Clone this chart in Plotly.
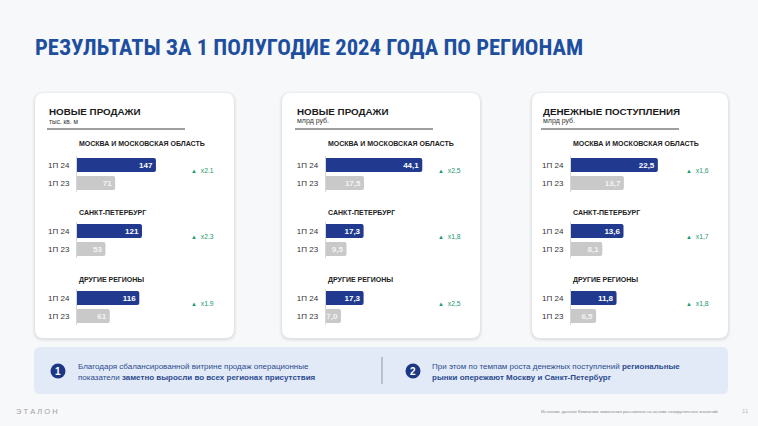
import plotly.graph_objects as go

# ---------------- data ----------------
regions = ["МОСКВА И МОСКОВСКАЯ ОБЛАСТЬ", "САНКТ-ПЕТЕРБУРГ", "ДРУГИЕ РЕГИОНЫ"]
periods = ["1П 24", "1П 23"]

card_titles = ["НОВЫЕ ПРОДАЖИ", "НОВЫЕ ПРОДАЖИ", "ДЕНЕЖНЫЕ ПОСТУПЛЕНИЯ"]
card_units = ["тыс. кв. м", "млрд руб.", "млрд руб."]

sales_area_24 = [147, 121, 116]
sales_area_23 = [71, 53, 61]
sales_rub_24 = [44.1, 17.3, 17.3]
sales_rub_23 = [17.5, 9.5, 7.0]
cash_24 = [22.5, 13.6, 11.8]
cash_23 = [13.7, 8.1, 6.5]

growth_area = ["x2.1", "x2.3", "x1.9"]
growth_rub = ["x2,5", "x1,8", "x2,5"]
growth_cash = ["x1,6", "x1,7", "x1,8"]

title_text = "РЕЗУЛЬТАТЫ ЗА 1 ПОЛУГОДИЕ 2024 ГОДА ПО РЕГИОНАМ"
note1 = ["Благодаря сбалансированной витрине продаж операционные",
         "показатели <b>заметно выросли во всех регионах присутствия</b>"]
note2 = ["При этом по темпам роста денежных поступлений <b>региональные</b>",
         "<b>рынки опережают Москву и Санкт-Петербург</b>"]
source_text = "Источник: данные Компании; изменения рассчитано на основе неокругленных значений."

# ---------------- layout helpers ----------------
W, H = 758, 426
def px(x): return x / W
def py(y): return 1 - y / H

FONT = "Liberation Sans, Arial, sans-serif"
BLUE = "#213a8f"
GRAY = "#c9c9c9"
GREEN = "#1d9a6c"
TITLE_BLUE = "#1e4f9f"

def rrect(x0, y0, x1, y1, r):
    L, R, T, B = px(x0), px(x1), py(y0), py(y1)
    rx, ry = r / W, r / H
    return (f"M {L+rx},{T} L {R-rx},{T} Q {R},{T} {R},{T-ry} L {R},{B+ry} "
            f"Q {R},{B} {R-rx},{B} L {L+rx},{B} Q {L},{B} {L},{B+ry} "
            f"L {L},{T-ry} Q {L},{T} {L+rx},{T} Z")

cards = [
    dict(left=35, right=234, tx=47, ax=77, scale=0.537, mx=189,
         v24=sales_area_24, v23=sales_area_23, g=growth_area, dec=0),
    dict(left=282, right=480, tx=295, ax=325.7, scale=2.19, mx=436,
         v24=sales_rub_24, v23=sales_rub_23, g=growth_rub, dec=1),
    dict(left=532, right=728, tx=541, ax=571, scale=3.86, mx=684,
         v24=cash_24, v23=cash_23, g=growth_cash, dec=1),
]
CARD_TOP, CARD_BOT = 93, 338
bar1_y = [165, 231, 298]
region_label_y = [143, 212, 280]
ROW = 18

def fmt(v, dec):
    return f"{v:.{dec}f}".replace(".", ",")

fig = go.Figure()
shapes = []
annotations = []
layout_axes = {}

# title
annotations.append(dict(x=px(33), y=py(47), xref="paper", yref="paper",
    text=f"<b>{title_text}</b>", showarrow=False, xanchor="left", yanchor="middle",
    font=dict(family="Liberation Sans Narrow, Roboto Condensed, Liberation Sans, Arial", size=22.6, color=TITLE_BLUE)))

for ci, c in enumerate(cards):
    # shadow + card
    for i, a in enumerate([0.018, 0.025, 0.035]):
        g = 3 - i
        shapes.append(dict(type="path", xref="paper", yref="paper", layer="below",
            path=rrect(c["left"] - g, CARD_TOP - g + 1, c["right"] + g, CARD_BOT + g + 1, 9 + g),
            fillcolor=f"rgba(0,0,0,{a})", line=dict(width=0)))
    shapes.append(dict(type="path", xref="paper", yref="paper", layer="below",
        path=rrect(c["left"], CARD_TOP, c["right"], CARD_BOT, 9),
        fillcolor="white", line=dict(width=0)))
    # card title / unit / underline
    annotations.append(dict(x=px(c["tx"]), y=py(111), xref="paper", yref="paper",
        text=f"<b>{card_titles[ci]}</b>", showarrow=False, xanchor="left", yanchor="middle",
        font=dict(family=FONT, size=9.8, color="#1a1a1a")))
    annotations.append(dict(x=px(c["tx"]), y=py(121), xref="paper", yref="paper",
        text=card_units[ci], showarrow=False, xanchor="left", yanchor="middle",
        font=dict(family=FONT, size=6.5 if ci == 0 else 7, color="#333")))
    shapes.append(dict(type="line", xref="paper", yref="paper",
        x0=px(c["tx"]), x1=px(c["tx"] + 138), y0=py(129), y1=py(129),
        line=dict(color="#808080", width=1.6)))

    xmax = (c["right"] - c["ax"]) / c["scale"]
    for r in range(3):
        k = ci * 3 + r + 1
        xa = "x" if k == 1 else f"x{k}"
        ya = "y" if k == 1 else f"y{k}"
        top = bar1_y[r] - ROW / 2
        bot = bar1_y[r] + ROW + ROW / 2
        vals = [c["v24"][r], c["v23"][r]]
        fig.add_trace(go.Bar(
            x=vals, y=periods, orientation="h", xaxis=xa, yaxis=ya,
            marker=dict(color=[BLUE, GRAY], line=dict(width=0)),
            text=[fmt(v, c["dec"]) for v in vals],
            textposition="inside", insidetextanchor="end", textangle=0,
            textfont=dict(family=FONT, size=8, color=["white", "#f4f4f4"], weight="bold"),
            cliponaxis=False, hoverinfo="skip", showlegend=False))
        xkey = "xaxis" if k == 1 else f"xaxis{k}"
        ykey = "yaxis" if k == 1 else f"yaxis{k}"
        layout_axes[xkey] = dict(domain=[px(c["ax"]), px(c["right"])], range=[0, xmax],
            showgrid=False, zeroline=False, showticklabels=False, showline=False,
            anchor=ya, fixedrange=True)
        layout_axes[ykey] = dict(domain=[py(bot), py(top)], autorange="reversed",
            showgrid=False, zeroline=False, showline=True, linecolor="#d6d6d6", linewidth=1,
            ticks="", ticklabelstandoff=5,
            tickfont=dict(family=FONT, size=8, color="#333"), anchor=xa, fixedrange=True)
        # region label
        annotations.append(dict(x=px(c["ax"]), y=py(region_label_y[r]), xref="paper", yref="paper",
            text=f"<b>{regions[r]}</b>", showarrow=False, xanchor="left", yanchor="middle",
            font=dict(family=FONT, size=7, color="#222")))
        # growth multiplier
        annotations.append(dict(x=px(c["mx"]), y=py(bar1_y[r] + 5), xref="paper", yref="paper",
            text=f"<span style='font-size:6px'>▲</span>  {c['g'][r]}", showarrow=False,
            xanchor="left", yanchor="middle",
            font=dict(family=FONT, size=6.8, color=GREEN)))

# bottom panel
shapes.append(dict(type="path", xref="paper", yref="paper", layer="below",
    path=rrect(34, 347, 728, 394, 6), fillcolor="#e2eaf7", line=dict(width=0)))
shapes.append(dict(type="line", xref="paper", yref="paper",
    x0=px(382), x1=px(382), y0=py(357), y1=py(384), line=dict(color="#9aa6ba", width=1.2)))
for cx, num, lines, tx in [(58, "1", note1, 76), (413, "2", note2, 430)]:
    shapes.append(dict(type="circle", xref="paper", yref="paper",
        x0=px(cx - 7.5), x1=px(cx + 7.5), y0=py(371 + 7.5), y1=py(371 - 7.5),
        fillcolor="#1c3784", line=dict(width=0)))
    annotations.append(dict(x=px(cx), y=py(371), xref="paper", yref="paper",
        text=f"<b>{num}</b>", showarrow=False, xanchor="center", yanchor="middle",
        font=dict(family=FONT, size=10, color="white")))
    for j, ln in enumerate(lines):
        annotations.append(dict(x=px(tx), y=py(366 + 11 * j), xref="paper", yref="paper",
            text=ln, showarrow=False, xanchor="left", yanchor="middle",
            font=dict(family=FONT, size=8, color="#2c4a8e")))

# footer
annotations.append(dict(x=px(14), y=py(411), xref="paper", yref="paper",
    text="Э Т А Л О Н", showarrow=False, xanchor="left", yanchor="middle",
    font=dict(family=FONT, size=7.5, color="#a0a0a0")))
annotations.append(dict(x=px(721), y=py(411), xref="paper", yref="paper",
    text=source_text, showarrow=False, xanchor="right", yanchor="middle",
    font=dict(family=FONT, size=4.3, color="#888")))
annotations.append(dict(x=px(745), y=py(411), xref="paper", yref="paper",
    text="11", showarrow=False, xanchor="center", yanchor="middle",
    font=dict(family=FONT, size=6, color="#bbb")))

fig.update_layout(
    width=W, height=H, autosize=False,
    margin=dict(l=0, r=0, t=0, b=0),
    paper_bgcolor="#f7f8fa", plot_bgcolor="rgba(0,0,0,0)",
    bargap=0.22, barcornerradius=2,
    uniformtext=dict(minsize=8, mode="show"),
    shapes=shapes, annotations=annotations,
    font=dict(family=FONT),
    **layout_axes,
)

fig.write_html("out.html", config={"displayModeBar": False},
               post_script="document.body.style.margin='0px';")
